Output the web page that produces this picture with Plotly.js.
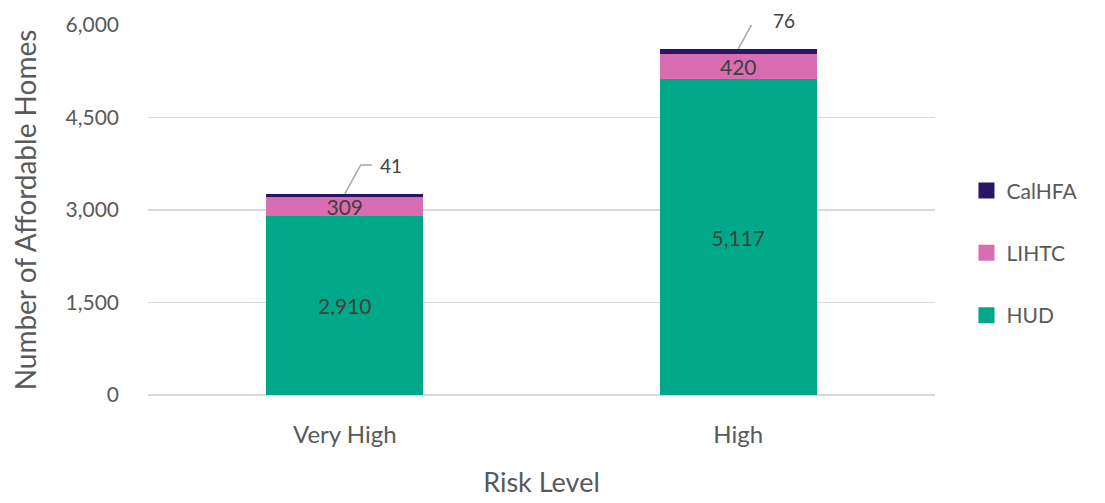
<!DOCTYPE html>
<html>
<head>
<meta charset="utf-8">
<script src="https://cdn.plot.ly/plotly-3.0.1.min.js"></script>
<style>html,body{margin:0;padding:0;background:#fff;}#chart{width:1105px;height:503px;}</style>
</head>
<body>
<div id="chart"></div>
<script>
const categories = ["Very High", "High"];
const hud = [2910, 5117];
const lihtc = [309, 420];
const calhfa = [41, 76];
const yTicks = [0, 1500, 3000, 4500, 6000];
const seriesNames = ["HUD", "LIHTC", "CalHFA"];
const seriesColors = ["#00A88A", "#D86EB1", "#2B1463"];

const FONT = "Lato, sans-serif";
const GRAY = "#595959";
const LABEL = "#404040";

const traces = [
  {type: "bar", name: "HUD", x: categories, y: hud, marker: {color: seriesColors[0]}, showlegend: false,
   texttemplate: "%{y:,}", textposition: "inside", insidetextanchor: "middle",
   constraintext: "none", textfont: {family: FONT, size: 21, color: LABEL}, hoverinfo: "skip"},
  {type: "bar", name: "LIHTC", x: categories, y: lihtc, marker: {color: seriesColors[1]}, showlegend: false,
   texttemplate: "%{y:,}", textposition: "inside", insidetextanchor: "middle",
   constraintext: "none", textfont: {family: FONT, size: 21, color: LABEL}, hoverinfo: "skip"},
  {type: "bar", name: "CalHFA", x: categories, y: calhfa, marker: {color: seriesColors[2]}, showlegend: false,
   textposition: "none", hoverinfo: "skip"}
];
// legend entries (square swatches)
seriesNames.forEach((n, k) => {
  traces.push({type: "scatter", mode: "markers", name: n, x: [null], y: [null],
    marker: {symbol: "square", size: 18, color: seriesColors[k]},
    legendgroup: n, legendrank: 3 - k, hoverinfo: "skip"});
});

const shapes = [];
const annotations = [];
categories.forEach((c, i) => {
  const total = hud[i] + lihtc[i] + calhfa[i];
  shapes.push({type: "path", xref: "x", yref: "y", xsizemode: "pixel", ysizemode: "pixel",
    xanchor: i, yanchor: total, path: "M0,0 L16,29 L27,29",
    line: {color: "#A6A6A6", width: 1.5}});
  annotations.push({x: c, y: total, xref: "x", yref: "y", text: calhfa[i].toLocaleString("en-US"),
    showarrow: false, xanchor: "left", yanchor: "middle", xshift: 33, yshift: 28,
    font: {family: FONT, size: 19, color: LABEL}});
});

const layout = {
  width: 1105, height: 503,
  margin: {l: 148, r: 170, t: 25, b: 108},
  paper_bgcolor: "#fff", plot_bgcolor: "#fff",
  barmode: "stack", bargap: 0.6,
  font: {family: FONT, color: GRAY},
  xaxis: {type: "category", tickfont: {size: 24, color: GRAY}, showline: false, ticks: "",
    ticklabelstandoff: 23,
    title: {text: "Risk Level", font: {size: 27, color: GRAY}, standoff: 26}},
  yaxis: {range: [0, 6000], tickvals: yTicks, ticktext: yTicks.map(v => v.toLocaleString("en-US")),
    tickfont: {size: 21, color: GRAY}, gridcolor: "#D9D9D9", gridwidth: 1.3,
    zeroline: true, zerolinecolor: "#D9D9D9", zerolinewidth: 1.5, ticks: "", ticklen: 0,
    ticklabelstandoff: 28,
    title: {text: "Number of Affordable Homes", font: {size: 28, color: GRAY}, standoff: 20}},
  legend: {x: 1.04, y: 0.384, xanchor: "left", yanchor: "middle", traceorder: "grouped",
    tracegroupgap: 32, font: {family: FONT, size: 21, color: GRAY}, itemwidth: 30},
  shapes: shapes, annotations: annotations
};

Plotly.newPlot("chart", traces, layout, {displayModeBar: false, staticPlot: true});
</script>
</body>
</html>
